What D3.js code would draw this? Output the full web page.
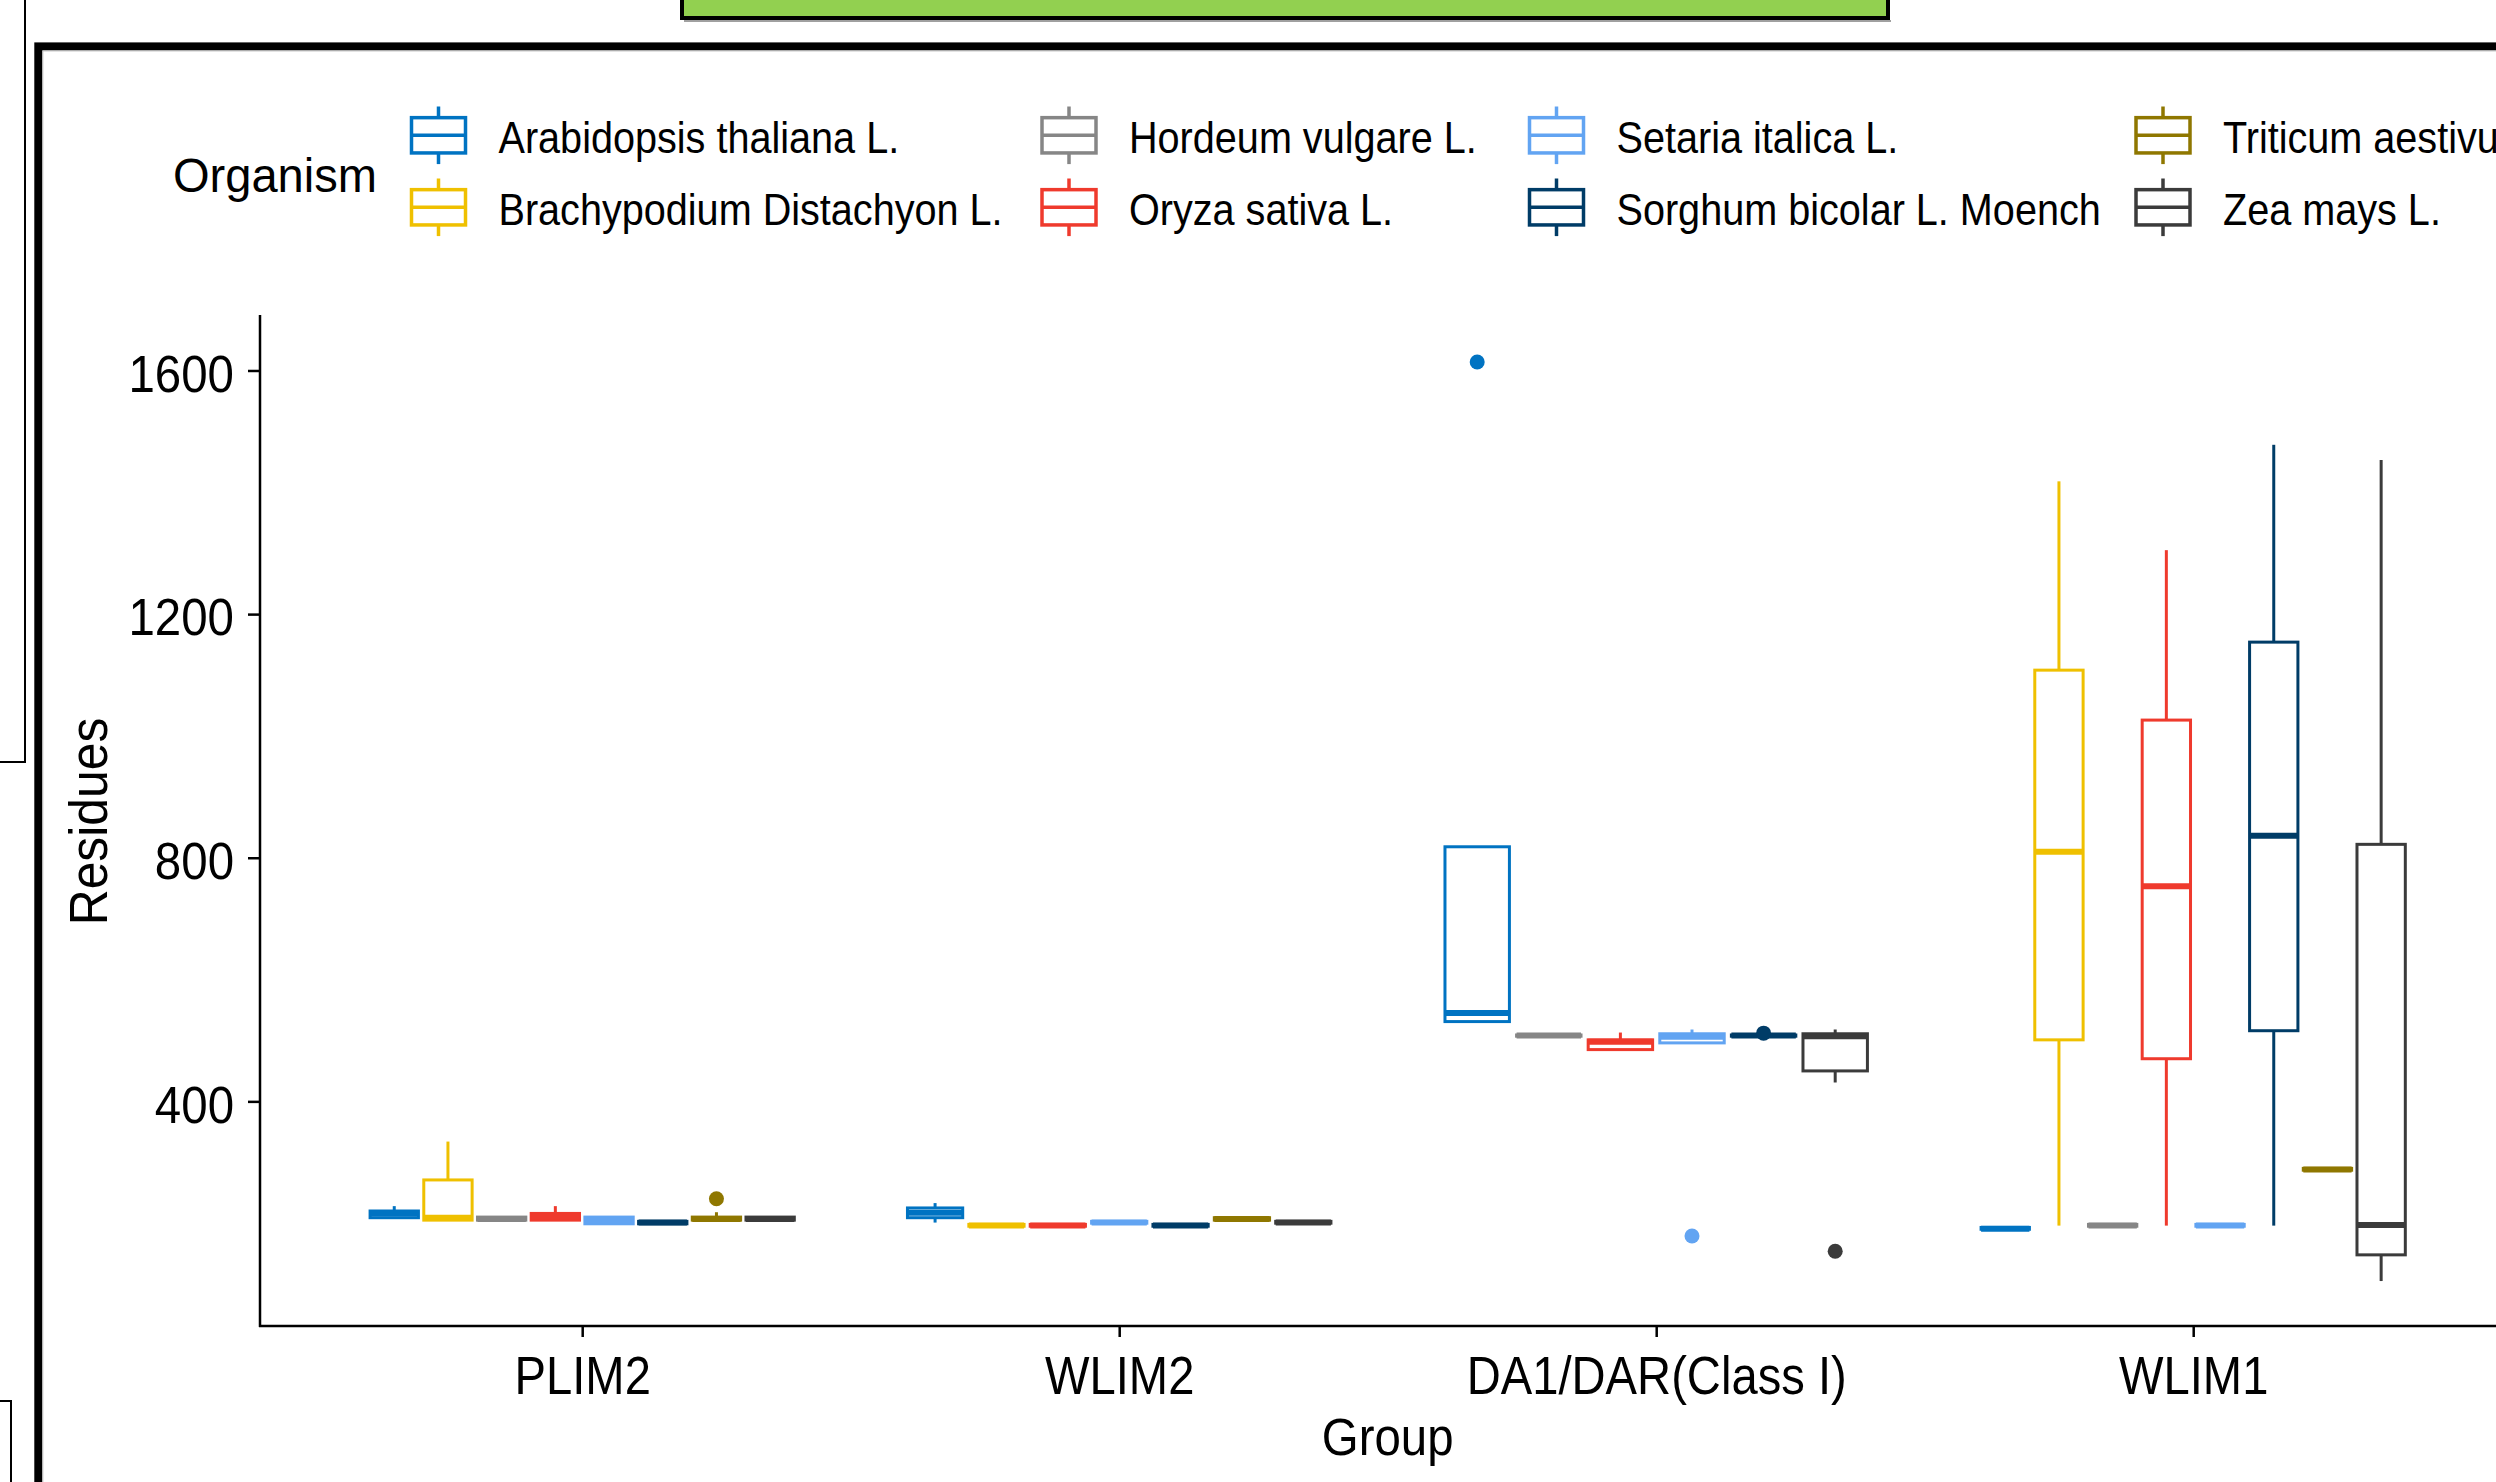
<!DOCTYPE html>
<html>
<head>
<meta charset="utf-8">
<script src="https://cdn.jsdelivr.net/npm/d3@7"></script>
<style>
html, body { margin: 0; padding: 0; background: #fff; overflow: hidden; }
svg { display: block; }
text { font-family: "Liberation Sans", Arial, sans-serif; fill: #000; }
</style>
</head>
<body>
<svg id="chart" width="2496" height="1482"></svg>
<script>
// categories
const groups = ["PLIM2", "WLIM2", "DA1/DAR(Class I)", "WLIM1"];
const organisms = ["Arabidopsis thaliana L.", "Brachypodium Distachyon L.", "Hordeum vulgare L.",
  "Oryza sativa L.", "Setaria italica L.", "Sorghum bicolar L. Moench", "Triticum aestivum L.", "Zea mays L."];
const orgColors = ["#0073C2", "#EFC000", "#868686", "#EF3A2D", "#62A4F2", "#003C67", "#8F7700", "#3B3B3B"];
const yTicks = [400, 800, 1200, 1600];

// box stats per group: [lower whisker, Q1, median, Q3, upper whisker] + outliers
const plim2 = [
  {org: "Arabidopsis thaliana L.", stats: [207, 209, 216, 220, 228], out: []},
  {org: "Brachypodium Distachyon L.", stats: [204, 205, 209, 271, 334], out: []},
  {org: "Hordeum vulgare L.", stats: [205, 205, 207, 210, 210], out: []},
  {org: "Oryza sativa L.", stats: [204, 205, 211, 216, 228], out: []},
  {org: "Setaria italica L.", stats: [198, 199, 205, 210, 211], out: []},
  {org: "Sorghum bicolar L. Moench", stats: [199, 199, 201, 203, 204], out: []},
  {org: "Triticum aestivum L.", stats: [204, 205, 207, 210, 218], out: [240]},
  {org: "Zea mays L.", stats: [205, 205, 207, 210, 210], out: []}
];
const wlim2 = [
  {org: "Arabidopsis thaliana L.", stats: [201, 209, 217, 225, 233], out: []},
  {org: "Brachypodium Distachyon L.", stats: [195, 195, 196, 198, 198], out: []},
  {org: "Oryza sativa L.", stats: [195, 195, 196, 198, 198], out: []},
  {org: "Setaria italica L.", stats: [200, 200, 201, 203, 203], out: []},
  {org: "Sorghum bicolar L. Moench", stats: [195, 195, 196, 198, 198], out: []},
  {org: "Triticum aestivum L.", stats: [205, 205, 207, 209, 209], out: []},
  {org: "Zea mays L.", stats: [200, 200, 201, 203, 203], out: []}
];
const da1 = [
  {org: "Arabidopsis thaliana L.", stats: [531, 531, 545, 818, 818], out: [1614]},
  {org: "Hordeum vulgare L.", stats: [507, 507, 508, 509, 509], out: []},
  {org: "Oryza sativa L.", stats: [484, 485, 498, 501, 513], out: []},
  {org: "Setaria italica L.", stats: [496, 496, 506, 511, 518], out: [179]},
  {org: "Sorghum bicolar L. Moench", stats: [507, 507, 508, 509, 509], out: [512]},
  {org: "Zea mays L.", stats: [431, 450, 507, 511, 518], out: [154]}
];
const wlim1 = [
  {org: "Arabidopsis thaliana L.", stats: [190, 190, 191, 193, 193], out: []},
  {org: "Brachypodium Distachyon L.", stats: [196, 501, 810, 1108, 1418], out: []},
  {org: "Hordeum vulgare L.", stats: [195, 195, 196, 198, 198], out: []},
  {org: "Oryza sativa L.", stats: [196, 470, 753, 1026, 1305], out: []},
  {org: "Setaria italica L.", stats: [195, 195, 196, 198, 198], out: []},
  {org: "Sorghum bicolar L. Moench", stats: [196, 516, 836, 1154, 1478], out: []},
  {org: "Triticum aestivum L.", stats: [287, 287, 288, 290, 290], out: []},
  {org: "Zea mays L.", stats: [105, 148, 197, 822, 1453], out: []}
];
const groupData = [plim2, wlim2, da1, wlim1];

const svg = d3.select("#chart");
const color = d3.scaleOrdinal().domain(organisms).range(orgColors);

// squeeze text horizontally a bit, the source font is narrower than Arial
function squeeze(sel, ratio) {
  sel.each(function() {
    const len = this.getComputedTextLength();
    d3.select(this).attr("textLength", len * ratio).attr("lengthAdjust", "spacingAndGlyphs");
  });
}

// ---- page decorations around the plot (screenshot frame) ----
svg.append("path").attr("d", "M25,0V762H0").attr("fill", "none").attr("stroke", "#000").attr("stroke-width", 2);
svg.append("path").attr("d", "M0,1401H11V1482").attr("fill", "none").attr("stroke", "#000").attr("stroke-width", 2);
svg.append("line").attr("x1", 684).attr("x2", 1891).attr("y1", 21).attr("y2", 21)
  .attr("stroke", "#a0a0a0").attr("stroke-width", 2);
svg.append("rect").attr("x", 682).attr("y", -10).attr("width", 1206).attr("height", 28)
  .attr("fill", "#92D050").attr("stroke", "#000").attr("stroke-width", 4);
svg.append("rect").attr("x", 38.3).attr("y", 46.4).attr("width", 3000).attr("height", 3000)
  .attr("fill", "none").attr("stroke", "#000").attr("stroke-width", 8);
svg.append("path").attr("d", "M42.8,2000V50.9H2496").attr("fill", "none").attr("stroke", "#b8b8b8").attr("stroke-width", 1);

// ---- scales ----
const panel = {left: 260, top: 316, bottom: 1327};
const step = 537;
const x = d3.scalePoint().domain(groups).range([panel.left + 0.6 * step, panel.left + 3.6 * step]);
const panelRight = panel.left + 4.2 * step;

const allVals = groupData.flat().flatMap(d => d.stats.concat(d.out));
const [vMin, vMax] = d3.extent(allVals);
const pad = (vMax - vMin) * 0.05;
const y = d3.scaleLinear().domain([vMin - pad, vMax + pad]).range([panel.bottom, panel.top]);

// ---- boxes ----
const dodge = 0.8 * step;
groups.forEach((g, gi) => {
  const data = groupData[gi];
  const inner = d3.scaleBand().domain(data.map(d => d.org))
    .range([-dodge / 2, dodge / 2]).paddingInner(0.1).paddingOuter(0.05);
  const gg = svg.append("g").attr("transform", `translate(${x(g)},0)`);
  data.forEach(d => {
    const col = color(d.org);
    const x0 = inner(d.org), bw = inner.bandwidth(), cx = x0 + bw / 2;
    const [lo, q1, med, q3, hi] = d.stats;
    gg.append("line").attr("x1", cx).attr("x2", cx).attr("y1", y(hi)).attr("y2", y(q3))
      .attr("stroke", col).attr("stroke-width", 3);
    gg.append("line").attr("x1", cx).attr("x2", cx).attr("y1", y(q1)).attr("y2", y(lo))
      .attr("stroke", col).attr("stroke-width", 3);
    gg.append("rect").attr("x", x0).attr("width", bw).attr("y", y(q3)).attr("height", y(q1) - y(q3))
      .attr("fill", "#fff").attr("stroke", col).attr("stroke-width", 3);
    gg.append("line").attr("x1", x0).attr("x2", x0 + bw).attr("y1", y(med)).attr("y2", y(med))
      .attr("stroke", col).attr("stroke-width", 6);
    gg.selectAll(null).data(d.out).enter().append("circle")
      .attr("cx", cx).attr("cy", v => y(v)).attr("r", 7.5).attr("fill", col);
  });
});

// ---- axes ----
const yAxis = svg.append("g").attr("transform", `translate(${panel.left},0)`)
  .call(d3.axisLeft(y).tickValues(yTicks).tickSize(12).tickPadding(14).tickFormat(d3.format("d")));
yAxis.select(".domain").attr("d", `M0,${panel.top - 1}V${panel.bottom}`).attr("stroke-width", 2.5);
yAxis.selectAll(".tick line").attr("stroke-width", 2.5);
yAxis.selectAll(".tick text").attr("font-size", 51).attr("font-family", null).attr("fill", "#000")
  .attr("dy", null).attr("y", 20.7).call(squeeze, 0.93);

const xAxis = svg.append("g").attr("transform", `translate(0,${panel.bottom - 1})`)
  .call(d3.axisBottom(x).tickSize(11).tickPadding(10));
xAxis.select(".domain").attr("d", `M${panel.left - 1},0H${panelRight}`).attr("stroke-width", 2.7);
xAxis.selectAll(".tick line").attr("stroke-width", 2.5);
xAxis.selectAll(".tick text").attr("font-size", 53).attr("font-family", null).attr("fill", "#000")
  .attr("dy", null).attr("y", 68).call(squeeze, 0.89);

svg.append("text").attr("x", (panel.left + panelRight) / 2).attr("y", 1455)
  .attr("text-anchor", "middle").attr("font-size", 51).text("Group").call(squeeze, 0.93);
svg.append("text").attr("transform", `translate(107,${(panel.top + panel.bottom) / 2}) rotate(-90)`)
  .attr("text-anchor", "middle").attr("font-size", 53).text("Residues").call(squeeze, 0.94);

// ---- legend ----
const legendColX = [438.5, 1069, 1556.5, 2163];
const legendRowY = [135.3, 207.3];
const keyK = 72;
svg.append("text").attr("x", 173).attr("y", 192).attr("font-size", 48).text("Organism").call(squeeze, 0.98);
organisms.forEach((o, i) => {
  const cx = legendColX[Math.floor(i / 2)], cy = legendRowY[i % 2];
  const col = color(o);
  const k = svg.append("g").attr("transform", `translate(${cx},${cy})`);
  k.append("line").attr("x1", 0).attr("x2", 0).attr("y1", -0.4 * keyK).attr("y2", -0.25 * keyK)
    .attr("stroke", col).attr("stroke-width", 3.5);
  k.append("line").attr("x1", 0).attr("x2", 0).attr("y1", 0.25 * keyK).attr("y2", 0.4 * keyK)
    .attr("stroke", col).attr("stroke-width", 3.5);
  k.append("rect").attr("x", -0.375 * keyK).attr("y", -0.245 * keyK)
    .attr("width", 0.75 * keyK).attr("height", 0.49 * keyK)
    .attr("fill", "#fff").attr("stroke", col).attr("stroke-width", 3.5);
  k.append("line").attr("x1", -0.375 * keyK).attr("x2", 0.375 * keyK).attr("y1", 0).attr("y2", 0)
    .attr("stroke", col).attr("stroke-width", 3.5);
  svg.append("text").attr("x", cx + 60).attr("y", cy + 18).attr("font-size", 44).text(o).call(squeeze, 0.9);
});
</script>
</body>
</html>
